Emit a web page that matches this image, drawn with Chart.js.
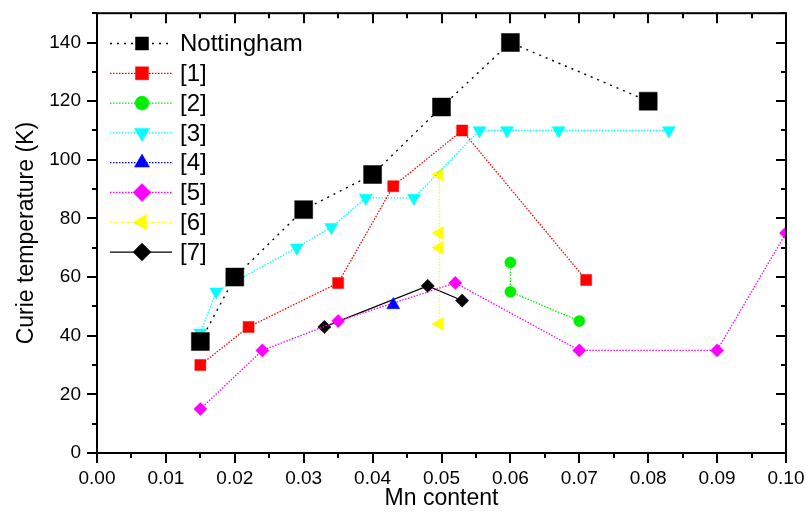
<!DOCTYPE html>
<html><head><meta charset="utf-8">
<script src="https://cdn.jsdelivr.net/npm/chart.js@4/dist/chart.umd.min.js"></script>
<style>html,body{margin:0;padding:0;background:#fff}#wrap{width:806px;height:514px;position:relative}</style>
</head><body><div id="wrap"><canvas id="c"></canvas></div>
<script>
// ---- data ----
const nottX = [0.015, 0.02, 0.03, 0.04, 0.05, 0.06, 0.08];
const nottY = [38, 60, 83, 95, 118, 140, 120];
const ref1X = [0.015, 0.022, 0.035, 0.043, 0.053, 0.071];
const ref1Y = [30, 43, 58, 91, 110, 59];
const ref2X = [0.06, 0.06, 0.07];
const ref2Y = [65, 55, 45];
const ref3X = [0.015, 0.0173, 0.029, 0.034, 0.039, 0.046, 0.0555, 0.0595, 0.067, 0.083];
const ref3Y = [41, 55, 70, 77, 87, 87, 110, 110, 110, 110];
const ref4X = [0.043];
const ref4Y = [50.5];
const ref5X = [0.015, 0.024, 0.035, 0.052, 0.07, 0.09, 0.1];
const ref5Y = [15, 35, 45, 58, 35, 35, 75];
const ref6X = [0.0497, 0.0497, 0.0497, 0.0497];
const ref6Y = [95, 75, 70, 44];
const ref7X = [0.033, 0.048, 0.053];
const ref7Y = [43, 57, 52];
const seriesNames = ['Nottingham', '[1]', '[2]', '[3]', '[4]', '[5]', '[6]', '[7]'];
const xMajorTicks = [0, 0.01, 0.02, 0.03, 0.04, 0.05, 0.06, 0.07, 0.08, 0.09, 0.1];
const yMajorTicks = [0, 20, 40, 60, 80, 100, 120, 140];
const xTitle = 'Mn content';
const yTitle = 'Curie temperature (K)';

const FONT = "'Liberation Sans', Arial, sans-serif";
const pts = (xs, ys) => xs.map((x, i) => ({x: x, y: ys[i]}));
const DOT = [1.5, 1.5];
function ds(label, xs, ys, color, style, r, rot, dash, lw, legR) {
  return {
    label: label, data: pts(xs, ys), showLine: true,
    borderColor: color, backgroundColor: color, borderWidth: lw, borderDash: dash,
    pointStyle: style, pointRadius: r, pointHoverRadius: r, pointRotation: rot,
    pointBackgroundColor: color, pointBorderColor: color, pointBorderWidth: 0.5,
    clip: 0, legR: legR
  };
}
const datasets = [
  ds(seriesNames[0], nottX, nottY, '#000000', 'rect', 12.7, 0, [2, 5], 1.4, 9.2),
  ds(seriesNames[1], ref1X, ref1Y, '#ff0000', 'rect', 7.8, 0, DOT, 1.3, 9.2),
  ds(seriesNames[2], ref2X, ref2Y, '#00ee00', 'circle', 5.6, 0, DOT, 1.3, 7),
  ds(seriesNames[3], ref3X, ref3Y, '#00ffff', 'triangle', 7.5, 180, DOT, 1.3, 8.7),
  ds(seriesNames[4], ref4X, ref4Y, '#0000ff', 'triangle', 7.5, 0, DOT, 1.3, 8.7),
  ds(seriesNames[5], ref5X, ref5Y, '#ff00ff', 'rectRot', 6.6, 0, DOT, 1.3, 9),
  ds(seriesNames[6], ref6X, ref6Y, '#ffff00', 'triangle', 7.5, 270, DOT, 1.3, 9),
  ds(seriesNames[7], ref7X, ref7Y, '#000000', 'rectRot', 6.6, 0, [], 1.2, 9)
];

const isMajor = (v, list) => list.some(t => Math.abs(t - v) < 1e-9);

const framePlugin = {
  id: 'frame',
  afterDraw(chart) {
    const {ctx, chartArea: a, scales: {x, y}} = chart;
    ctx.save();
    ctx.strokeStyle = '#000';
    ctx.lineWidth = 2;
    ctx.strokeRect(a.left, a.top, a.right - a.left, a.bottom - a.top);
    ctx.beginPath();
    for (let v = 0; v <= 150.001; v += 10) {
      const p = Math.round(y.getPixelForValue(v));
      const len = isMajor(v, yMajorTicks) ? 10 : 5;
      ctx.moveTo(a.left - len, p); ctx.lineTo(a.left, p);
      ctx.moveTo(a.right - len, p); ctx.lineTo(a.right, p);
    }
    for (let i = 0; i <= 20; i++) {
      const v = i * 0.005;
      const p = Math.round(x.getPixelForValue(v));
      const len = i % 2 === 0 ? 10 : 5;
      ctx.moveTo(p, a.bottom); ctx.lineTo(p, a.bottom + len);
      ctx.moveTo(p, a.top); ctx.lineTo(p, a.top + len);
    }
    ctx.stroke();
    // legend
    const lx0 = 110, lx1 = 172, mx = 142, tx = 180, y0 = 43.5, dy = 29.8;
    chart.data.datasets.forEach((d, i) => {
      const yy = y0 + i * dy;
      ctx.save();
      ctx.strokeStyle = d.borderColor;
      ctx.lineWidth = d.borderWidth;
      ctx.setLineDash(d.borderDash);
      ctx.beginPath(); ctx.moveTo(lx0, yy); ctx.lineTo(lx1, yy); ctx.stroke();
      ctx.setLineDash([]);
      ctx.fillStyle = d.pointBackgroundColor;
      ctx.strokeStyle = d.pointBorderColor;
      ctx.lineWidth = 0.5;
      Chart.helpers.drawPoint(ctx, {pointStyle: d.pointStyle, radius: d.legR, rotation: d.pointRotation, borderWidth: 0.5}, mx, yy);
      ctx.fillStyle = '#000';
      ctx.font = '24px ' + FONT;
      ctx.textBaseline = 'middle';
      ctx.textAlign = 'left';
      ctx.fillText(d.label, tx, yy + 1);
      ctx.restore();
    });
    ctx.restore();
  }
};

function zeroPad(s) { s.paddingLeft = 0; s.paddingRight = 0; s.paddingTop = 0; s.paddingBottom = 0; }

new Chart(document.getElementById('c'), {
  type: 'scatter',
  data: {datasets: datasets},
  options: {
    responsive: true, maintainAspectRatio: false, animation: false,
    devicePixelRatio: 1,
    layout: {padding: {top: 10, right: 20, left: 0, bottom: 0}},
    plugins: {legend: {display: false}, tooltip: {enabled: false}},
    scales: {
      x: {
        type: 'linear', min: 0, max: 0.1,
        grid: {display: false, drawTicks: false},
        border: {display: false},
        ticks: {
          stepSize: 0.005, autoSkip: false, maxRotation: 0, padding: 14,
          color: '#000', font: {family: FONT, size: 19},
          callback: v => isMajor(v, xMajorTicks) ? v.toFixed(2) : ''
        },
        title: {display: true, text: xTitle, color: '#000', font: {family: FONT, size: 23}, padding: {top: 0, bottom: 2}},
        afterFit: s => { s.height = 61; zeroPad(s); }
      },
      y: {
        type: 'linear', min: 0, max: 150,
        grid: {display: false, drawTicks: false},
        border: {display: false},
        ticks: {
          stepSize: 10, autoSkip: false, padding: 16,
          color: '#000', font: {family: FONT, size: 19},
          callback: v => isMajor(v, yMajorTicks) ? String(v) : ''
        },
        title: {display: true, text: yTitle, color: '#000', font: {family: FONT, size: 23}, padding: {top: 13, bottom: 0}},
        afterFit: s => { s.width = 97; zeroPad(s); }
      }
    }
  },
  plugins: [framePlugin]
});
</script>
</body></html>
